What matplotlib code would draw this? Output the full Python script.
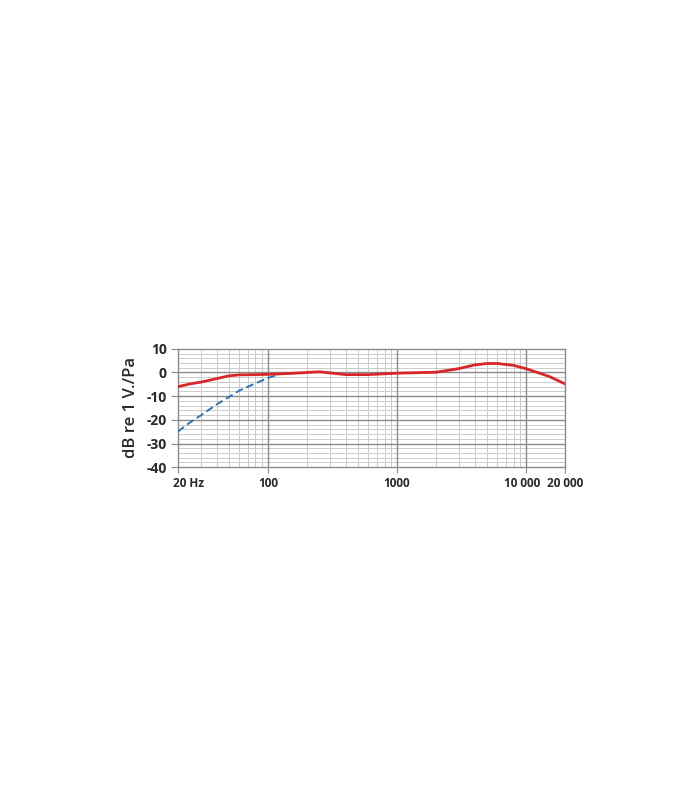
import matplotlib
matplotlib.use('Agg')
import matplotlib.pyplot as plt
import matplotlib.transforms as mtransforms
from matplotlib.ticker import FixedLocator, NullFormatter

plt.rcParams['font.family'] = ['Open Sans', 'DejaVu Sans']

# frequency response
freq_main = [20, 25, 30, 40, 50, 60, 80, 100, 150, 250, 400, 600, 1000,
             2000, 3000, 4000, 5000, 6000, 8000, 10000, 15000, 20000]
db_main = [-6.0, -4.8, -4.1, -2.6, -1.4, -1.0, -0.9, -0.8, -0.4, 0.3, -0.9,
           -0.9, -0.3, 0.1, 1.6, 3.2, 3.8, 3.8, 3.0, 1.6, -1.6, -4.8]

freq_cut = [20, 25, 30, 40, 50, 60, 80, 100, 120]
db_cut = [-25.0, -21.0, -18.2, -13.5, -10.3, -7.6, -4.6, -2.3, -0.9]

x_ticks = [20, 100, 1000, 10000, 20000]
x_labels = ['20 Hz', '100', '1000', '10 000', '20 000']
y_ticks = [10, 0, -10, -20, -30, -40]
y_labels = ['10', '0', '-10', '-20', '-30', '-40']

red = '#d8262b'
blue = '#2f74b5'
grid_minor = '#cbcbcb'
grid_major = '#8a8a8a'
text_c = '#2a2a2a'

fig = plt.figure(figsize=(7, 8), dpi=100)
ax = fig.add_axes([0.254, 0.416, 0.553, 0.148])

ax.set_xscale('log')
ax.set_xlim(20, 20000)
ax.set_ylim(-40, 10)

# minor grid
minor_x = [f * d for d in (10, 100, 1000) for f in range(2, 10)]
for f in minor_x:
    if 20 < f < 20000 and f not in (100, 1000, 10000):
        ax.axvline(f, color=grid_minor, lw=0.7, zorder=1)
for v in range(-38, 10, 2):
    if v % 10 != 0:
        ax.axhline(v, color=grid_minor, lw=0.7, zorder=1)
# major grid
for f in (100, 1000, 10000):
    ax.axvline(f, color=grid_major, lw=1.0, zorder=1)
for v in (0, -10, -20, -30):
    ax.axhline(v, color=grid_major, lw=1.0, zorder=1)

ax.plot(freq_cut, db_cut, color=blue, lw=1.4, ls=(0, (4, 2)), zorder=3)
ax.plot(freq_main, db_main, color=red, lw=2.0, zorder=4)

ax.xaxis.set_major_locator(FixedLocator(x_ticks))
ax.set_xticklabels(x_labels)
ax.xaxis.set_minor_formatter(NullFormatter())
ax.xaxis.set_minor_locator(FixedLocator([]))
ax.set_yticks(y_ticks)
ax.set_yticklabels(y_labels)
ax.tick_params(axis='x', length=4, color=grid_major, labelsize=8.5,
               labelcolor=text_c, pad=3)
ax.tick_params(axis='y', length=5, color=grid_major, labelsize=10,
               labelcolor=text_c, pad=3)
for lab in ax.get_xticklabels() + ax.get_yticklabels():
    lab.set_fontweight('bold')

# "20 Hz" sits just right of its tick, "10 000" a bit to the left
xl = ax.get_xticklabels()
xl[0].set_horizontalalignment('left')
xl[0].set_transform(xl[0].get_transform() +
                    mtransforms.ScaledTranslation(-5 / 100, 0, fig.dpi_scale_trans))
xl[3].set_transform(xl[3].get_transform() +
                    mtransforms.ScaledTranslation(-4 / 100, 0, fig.dpi_scale_trans))

for s in ax.spines.values():
    s.set_color(grid_major)
    s.set_linewidth(1.0)

ax.set_ylabel('dB re 1 V./Pa', fontsize=12, color=text_c, labelpad=5,
              fontweight='semibold')

fig.savefig('out.png', dpi=100)
